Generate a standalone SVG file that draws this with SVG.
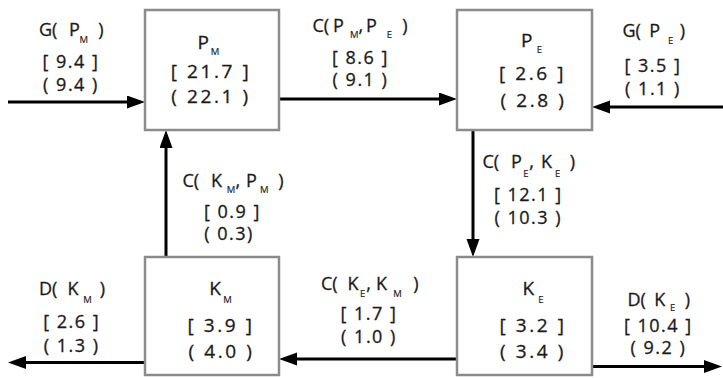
<svg xmlns="http://www.w3.org/2000/svg" width="723" height="378" viewBox="0 0 723 378">
<style>
text{font-family:"Open Sans","DejaVu Sans",sans-serif;fill:#1a1a1a;stroke:#1a1a1a;stroke-width:0.3}
.lb{font-size:18px;word-spacing:-2px}
.lv{font-size:18px;letter-spacing:1.5px;text-anchor:middle}
.bt{font-size:19px}
.bv{font-size:19px;letter-spacing:2.6px;text-anchor:middle}
.sb{font-size:9.5px;stroke-width:0.15}
.box{fill:#fff;stroke:#8c8c8c;stroke-width:2.5}
.cn{fill:none;stroke:#000;stroke-width:3;marker-end:url(#ah)}
</style>
<defs>
<marker id="ah" markerUnits="userSpaceOnUse" markerWidth="19" markerHeight="14" refX="0" refY="6.5" orient="auto" viewBox="0 0 19 14">
<path d="M0,0 L18,6.5 L0,13 z" fill="#000"/>
</marker>
</defs>
<g id="connectors">
<path class="cn" d="M8,102 H127"/>
<path class="cn" d="M279,99 H439"/>
<path class="cn" d="M723,107 H610"/>
<path class="cn" d="M473,130 V239"/>
<path class="cn" d="M166,257 V148"/>
<path class="cn" d="M457,359 H297"/>
<path class="cn" d="M145,362.5 H26"/>
<path class="cn" d="M592,366.5 H704"/>
</g>
<g id="labels">
<g id="lbl-G-PM">
<text class="lb" y="36"><tspan x="39">G( </tspan><tspan x="69">P</tspan><tspan class="sb" x="79.5" y="43">M</tspan><tspan x="95.5" y="36"> )</tspan></text>
<text class="lv" x="71" y="68">[ 9.4 ]</text>
<text class="lv" x="71" y="91">( 9.4 )</text>
</g>
<g id="lbl-C-PM-PE">
<text class="lb" y="31.5"><tspan x="312.5">C( </tspan><tspan x="333">P</tspan><tspan class="sb" x="350" y="38.3">M</tspan><tspan x="358.5" y="31.5">, </tspan><tspan x="366">P</tspan><tspan class="sb" x="386.7" y="38.3">E</tspan><tspan x="399.5" y="31.5"> )</tspan></text>
<text class="lv" x="360.5" y="63.5">[ 8.6 ]</text>
<text class="lv" x="360.5" y="86">( 9.1 )</text>
</g>
<g id="lbl-G-PE">
<text class="lb" y="37"><tspan x="622.5">G( </tspan><tspan x="649.3">P</tspan><tspan class="sb" x="668" y="43.5">E</tspan><tspan x="677" y="37"> )</tspan></text>
<text class="lv" x="653" y="72">[ 3.5 ]</text>
<text class="lv" x="653" y="95">( 1.1 )</text>
</g>
<g id="lbl-C-KM-PM">
<text class="lb" y="186.7"><tspan x="182.5">C( </tspan><tspan x="211">K</tspan><tspan class="sb" x="226.7" y="193.3">M</tspan><tspan x="235.5" y="186.7">, </tspan><tspan x="246">P</tspan><tspan class="sb" x="260" y="193.3">M</tspan><tspan x="275.5" y="186.7"> )</tspan></text>
<text class="lv" x="232.5" y="218">[ 0.9 ]</text>
<text class="lv" x="229" y="240">( 0.3)</text>
</g>
<g id="lbl-C-PE-KE">
<text class="lb" y="168.3"><tspan x="482.5">C( </tspan><tspan x="511">P</tspan><tspan class="sb" x="523.3" y="176.7">E</tspan><tspan x="529.3" y="168.3">, </tspan><tspan x="541">K</tspan><tspan class="sb" x="555" y="176.7">E</tspan><tspan x="567" y="168.3"> )</tspan></text>
<text class="lv" x="528.3" y="201">[ 12.1 ]</text>
<text class="lv" x="528.3" y="224">( 10.3 )</text>
</g>
<g id="lbl-D-KM">
<text class="lb" y="295"><tspan x="39">D( </tspan><tspan x="67.5">K</tspan><tspan class="sb" x="83.3" y="303.3">M</tspan><tspan x="97" y="295"> )</tspan></text>
<text class="lv" x="71.7" y="328.3">[ 2.6 ]</text>
<text class="lv" x="71.7" y="351.5">( 1.3 )</text>
</g>
<g id="lbl-C-KE-KM">
<text class="lb" y="290"><tspan x="321">C( </tspan><tspan x="347.5">K</tspan><tspan class="sb" x="360" y="296.7">E</tspan><tspan x="366.3" y="290">, </tspan><tspan x="376">K</tspan><tspan class="sb" x="393.3" y="296.7">M</tspan><tspan x="410.5" y="290"> )</tspan></text>
<text class="lv" x="369" y="320">[ 1.7 ]</text>
<text class="lv" x="369" y="343.3">( 1.0 )</text>
</g>
<g id="lbl-D-KE">
<text class="lb" y="306"><tspan x="627.5">D( </tspan><tspan x="654.3">K</tspan><tspan class="sb" x="670" y="311">E</tspan><tspan x="682" y="306"> )</tspan></text>
<text class="lv" x="658.3" y="331.5">[ 10.4 ]</text>
<text class="lv" x="658.3" y="354">( 9.2 )</text>
</g>
</g>
<g id="node-PM">
<rect class="box" x="145" y="10" width="134" height="120"/>
<text class="bt" y="49"><tspan x="197.5">P</tspan><tspan class="sb" x="210.7" y="55">M</tspan></text>
<text class="bv" x="211" y="78">[ 21.7 ]</text>
<text class="bv" x="211" y="103">( 22.1 )</text>
</g>
<g id="node-PE">
<rect class="box" x="457" y="10" width="135" height="120"/>
<text class="bt" y="46.5"><tspan x="521">P</tspan><tspan class="sb" x="536.7" y="53.3">E</tspan></text>
<text class="bv" x="532.5" y="80">[ 2.6 ]</text>
<text class="bv" x="533.5" y="106.5">( 2.8 )</text>
</g>
<g id="node-KM">
<rect class="box" x="145" y="257" width="134" height="118"/>
<text class="bt" y="295"><tspan x="209.3">K</tspan><tspan class="sb" x="223.3" y="303.3">M</tspan></text>
<text class="bv" x="221" y="331.7">[ 3.9 ]</text>
<text class="bv" x="221.5" y="358.3">( 4.0 )</text>
</g>
<g id="node-KE">
<rect class="box" x="457" y="257" width="135" height="118"/>
<text class="bt" y="295"><tspan x="522.5">K</tspan><tspan class="sb" x="538.3" y="303.3">E</tspan></text>
<text class="bv" x="533" y="331.7">[ 3.2 ]</text>
<text class="bv" x="533" y="358.3">( 3.4 )</text>
</g>
</svg>
